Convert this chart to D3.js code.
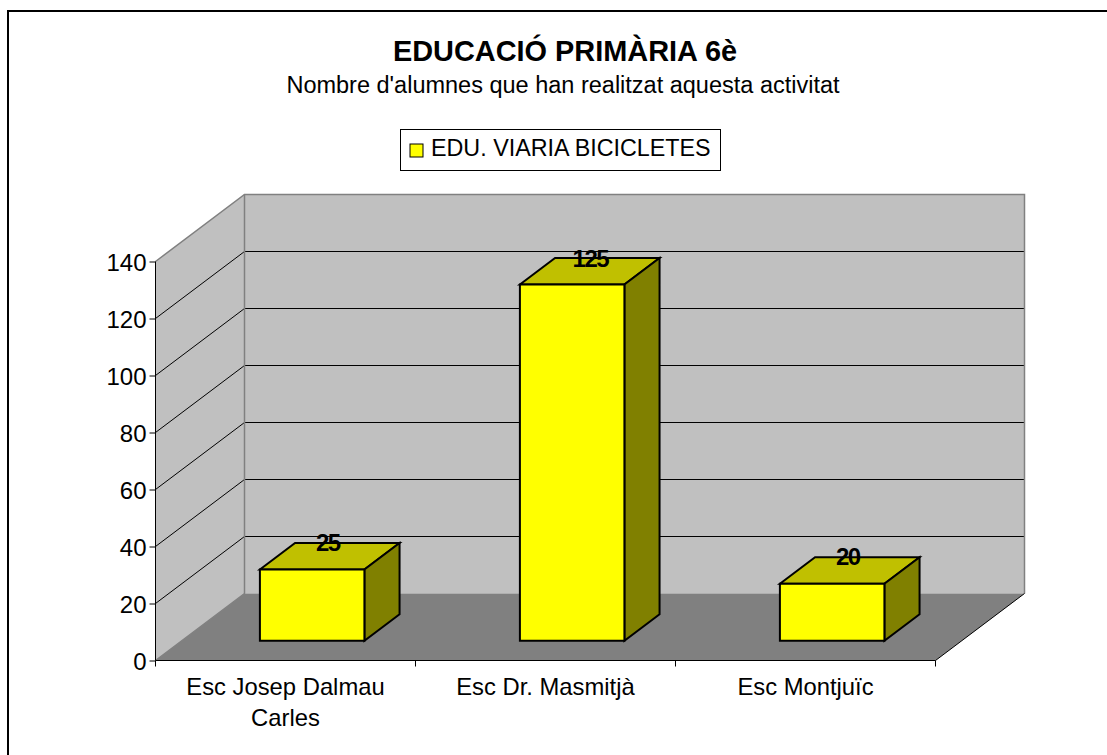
<!DOCTYPE html>
<html><head><meta charset="utf-8">
<style>html,body{margin:0;padding:0;background:#fff}svg{display:block}text{font-family:"Liberation Sans",Arial,sans-serif;fill:#000}</style>
<script src="https://cdn.jsdelivr.net/npm/d3@7"></script></head>
<body><svg id="c" width="1107" height="755"></svg>
<script>
const titleText = "EDUCACIÓ PRIMÀRIA 6è";
const subtitleText = "Nombre d'alumnes que han realitzat aquesta activitat";
const seriesName = "EDU. VIARIA BICICLETES";
const categories = ["Esc Josep Dalmau Carles", "Esc Dr. Masmitjà", "Esc Montjuïc"];
const categoryLines = [["Esc Josep Dalmau", "Carles"], ["Esc Dr. Masmitjà"], ["Esc Montjuïc"]];
const values = [25, 125, 20];
const yTicks = [0, 20, 40, 60, 80, 100, 120, 140];

const svg = d3.select("#c");
svg.append("path").attr("d","M8,755V11H1107").attr("fill","none").attr("stroke","#000").attr("stroke-width",2);

const y = d3.scaleLinear().domain([0,140]).range([660.5,261.5]);
const x = d3.scaleBand().domain(categories).range([155.5,935.5]);
// oblique depth: 0 = front plane, 1 = back wall
const dx = d3.scaleLinear().domain([0,1]).range([0,89]);
const dy = d3.scaleLinear().domain([0,1]).range([0,-67]);
const P = (px,v,d)=>[px+dx(d), y(v)+dy(d)];
const poly = pts => "M"+pts.map(p=>p.join(",")).join("L")+"Z";
const x0=155.5, x1=935.5;

// walls
svg.append("path").attr("d",poly([P(x0,0,0),P(x0,140,0),P(x0,140,1),P(x0,0,1)])).attr("fill","#c0c0c0");
svg.append("path").attr("d",poly([P(x0,0,1),P(x0,140,1),P(x1,140,1),P(x1,0,1)])).attr("fill","#c0c0c0");
svg.append("path").attr("d",poly([P(x0,0,0),P(x0,0,1),P(x1,0,1),P(x1,0,0)])).attr("fill","#808080");
// gridlines
yTicks.filter(t=>t>0&&t<140).forEach(t=>{
  svg.append("path").attr("d","M"+P(x0,t,0)+"L"+P(x0,t,1)+"L"+P(x1,t,1)).attr("fill","none").attr("stroke","#000").attr("stroke-width",1);
});
// wall outlines
svg.append("path").attr("d","M"+P(x0,140,0)+"L"+P(x0,140,1)+"L"+P(x1,140,1)+"L"+P(x1,0,1)).attr("fill","none").attr("stroke","#808080").attr("stroke-width",1.5);
svg.append("path").attr("d","M"+P(x0,140,1)+"L"+P(x0,0,1)+"L"+P(x0,0,0)).attr("fill","none").attr("stroke","#808080").attr("stroke-width",1.5);
svg.append("path").attr("d","M"+P(x1,0,0)+"L"+P(x1,0,1)).attr("fill","none").attr("stroke","#000").attr("stroke-width",1);

// axes
const yAxis = d3.axisLeft(y).tickValues(yTicks).tickSize(6).tickPadding(3);
const gy = svg.append("g").attr("transform","translate(155.5,0)").call(yAxis);
gy.select(".domain").attr("stroke","#000").attr("d","M0,261.5V660.5");
gy.selectAll("text").attr("font-size",24).attr("dy","0.37em").style("font-family",'"Liberation Sans",Arial,sans-serif');
gy.selectAll("line").attr("stroke","#000");

svg.append("line").attr("x1",x0).attr("x2",x1).attr("y1",y(0)).attr("y2",y(0)).attr("stroke","#000");
[x0,x0+260,x0+520,x1].forEach(t=>svg.append("line").attr("x1",t).attr("x2",t).attr("y1",y(0)).attr("y2",y(0)+6).attr("stroke","#000"));
categories.forEach((c,i)=>{
  const t = svg.append("text").attr("text-anchor","middle").attr("font-size",23.8);
  categoryLines[i].forEach((l,j)=>t.append("tspan").attr("x",x(c)+x.bandwidth()/2).attr("y",695+j*31).text(l));
});

// bars
const barW = 104.5, barShift = 0.4, dFront = 0.295, dBack = 0.69;
categories.forEach((c,i)=>{
  const xa = x(c)+x.bandwidth()/2-barW/2+barShift, xb = xa+barW, v = values[i];
  const g = svg.append("g").attr("stroke","#000").attr("stroke-width",2).attr("stroke-linejoin","miter");
  g.append("path").attr("fill","#c0c000").attr("d",poly([P(xa,v,dFront),P(xa,v,dBack),P(xb,v,dBack),P(xb,v,dFront)]));
  g.append("path").attr("fill","#808000").attr("d",poly([P(xb,0,dFront),P(xb,v,dFront),P(xb,v,dBack),P(xb,0,dBack)]));
  g.append("path").attr("fill","#ffff00").attr("d",poly([P(xa,0,dFront),P(xa,v,dFront),P(xb,v,dFront),P(xb,0,dFront)]));
  const lp = P((xa+xb)/2,v,dBack);
  svg.append("text").attr("x",lp[0]-(v>=100?17:19.5)).attr("y",lp[1]+(v>=100?8.5:7.5)).attr("text-anchor","middle")
    .attr("font-size",24).attr("font-weight","bold").attr("letter-spacing",-1.5).text(v);
});

// titles
svg.append("text").attr("x",565).attr("y",61).attr("text-anchor","middle").attr("font-size",28.9).attr("font-weight","bold").text(titleText);
svg.append("text").attr("x",563).attr("y",93).attr("text-anchor","middle").attr("font-size",23.5).text(subtitleText);

// legend
svg.append("rect").attr("x",400.5).attr("y",129.5).attr("width",320).attr("height",41).attr("fill","#fff").attr("stroke","#000").attr("stroke-width",1);
svg.append("rect").attr("x",410).attr("y",144).attr("width",13).attr("height",13).attr("fill","#ffff00").attr("stroke","#000").attr("stroke-width",1);
svg.append("text").attr("x",431).attr("y",156).attr("font-size",23.3).text(seriesName);
</script></body></html>
